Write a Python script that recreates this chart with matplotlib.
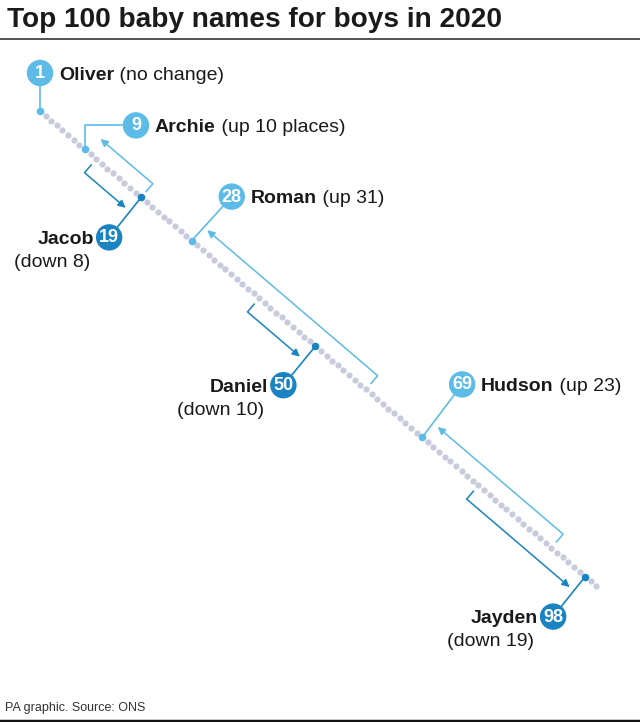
import matplotlib
matplotlib.use("Agg")
import matplotlib.pyplot as plt
from matplotlib.patches import Circle
import numpy as np

plt.rcParams['font.family'] = ['Liberation Sans', 'DejaVu Sans']

# data
names = ["Oliver", "Archie", "Jacob", "Roman", "Daniel", "Hudson", "Jayden"]
rank_2020 = [1, 9, 19, 28, 50, 69, 98]
rank_change = [0, 10, -8, 31, -10, 23, -19]   # positive = moved up
change_text = ["(no change)", "(up 10 places)", "(down 8)", "(up 31)",
               "(down 10)", "(up 23)", "(down 19)"]
n_ranks = 100

LIGHT = "#5dbbe8"
DARK = "#1a84c3"
GREY_DOT = "#c9cadc"
TXT = "#1a1a1a"

# rank -> pixel position along the diagonal
X0, Y0 = 40, 111
DX, DY = 5.62, 4.80


def pos(r):
    r = np.asarray(r, dtype=float)
    return X0 + (r - 1) * DX, Y0 + (r - 1) * DY


along = np.array([DX, DY]) / np.hypot(DX, DY)
perp = np.array([along[1], -along[0]])  # points up-right

# badge placement relative to its dot (px)
badge_off = [(0, -38), (51, -24), (-32, 40), (40, -44), (-32, 39), (40, -53), (-32, 40)]
BADGE_R = 12.5
LABEL_FS = 14

fig = plt.figure(figsize=(6.4, 7.22), dpi=100)
ax = fig.add_axes([0, 0, 1, 1])
ax.set_xlim(0, 640)
ax.set_ylim(722, 0)
ax.axis("off")

# title, rules, footer
ax.text(7, 27, "Top 100 baby names for boys in 2020", fontsize=20.2,
        fontweight="bold", color=TXT, va="baseline", ha="left")
ax.plot([0, 640], [39, 39], color="#444444", lw=1.3)
ax.text(5, 711, "PA graphic. Source: ONS", fontsize=9, color="#333333",
        va="baseline", ha="left")
ax.plot([0, 640], [720.5, 720.5], color="#111111", lw=2.5)

# all 100 ranks
all_x, all_y = pos(np.arange(1, n_ranks + 1))
ax.scatter(all_x, all_y, s=20, color=GREY_DOT, lw=0, zorder=2)

for name, r, ch, txt, off in zip(names, rank_2020, rank_change, change_text, badge_off):
    col = DARK if ch < 0 else LIGHT
    x, y = pos(r)
    bx, by = x + off[0], y + off[1]

    # movement bracket
    if ch != 0:
        prev = r + ch
        side = perp if ch > 0 else -perp
        p0 = np.array(pos(prev))
        p1 = np.array(pos(r))
        step = (p1 - p0) / np.linalg.norm(p1 - p0)
        a = p0 + side * 7
        b = p0 + side * 18
        c = p1 + side * 18 - step * 5
        ax.plot([a[0], b[0]], [a[1], b[1]], color=col, lw=1.1, zorder=3,
                solid_capstyle="butt")
        ax.annotate("", xy=c, xytext=b,
                    arrowprops=dict(arrowstyle="-|>", color=col, lw=1.1,
                                    mutation_scale=11, shrinkA=0, shrinkB=0),
                    zorder=3)

    # connector dot -> badge
    if name == "Archie":
        ax.plot([x, x, bx], [y, by, by], color=col, lw=1.2, zorder=3)
    else:
        ax.plot([x, bx], [y, by], color=col, lw=1.2, zorder=3)
    ax.scatter([x], [y], s=30, color=col, lw=0, zorder=4)

    ax.add_patch(Circle((bx, by), BADGE_R, color=col, zorder=5))
    ax.text(bx, by + 0.5, str(r), color="white", fontsize=13, fontweight="bold",
            ha="center", va="center", zorder=6)

    if ch >= 0:
        t = ax.text(bx + 19, by, name, fontsize=LABEL_FS, fontweight="bold",
                    color=TXT, ha="left", va="center_baseline")
        ax.annotate(" " + txt, xy=(1, 0), xycoords=t, fontsize=LABEL_FS,
                    color=TXT, ha="left", va="bottom")
    else:
        ax.text(bx - 15, by, name, fontsize=LABEL_FS, fontweight="bold",
                color=TXT, ha="right", va="center_baseline")
        ax.text(bx - 19, by + 23, txt, fontsize=LABEL_FS, color=TXT,
                ha="right", va="center_baseline")

fig.savefig("out.png", dpi=100)
